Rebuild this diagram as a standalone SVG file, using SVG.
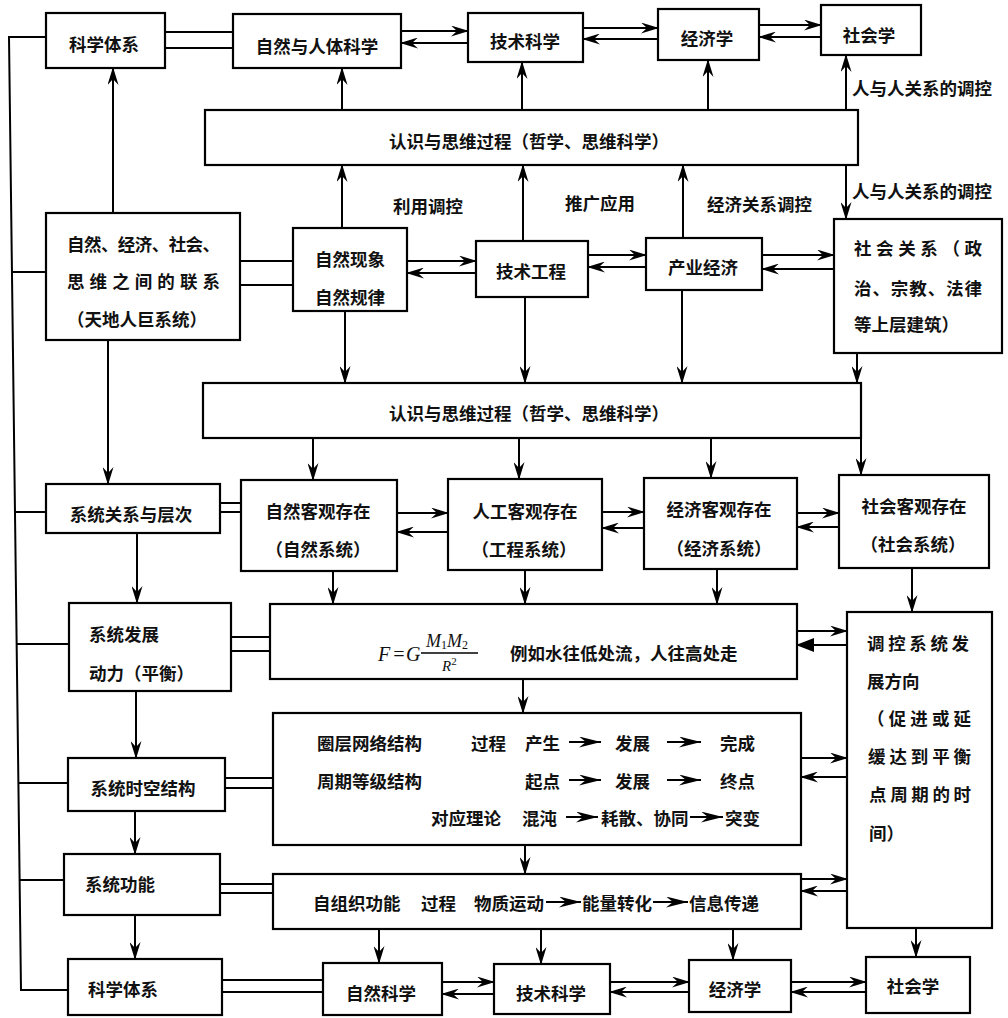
<svg xmlns="http://www.w3.org/2000/svg" width="1008" height="1018" viewBox="0 0 1008 1018">
<style>
.b{fill:#fff;stroke:#000;stroke-width:2.2}
.t{font-family:"Noto Sans CJK SC","Noto Sans CJK JP",sans-serif;font-size:17.5px;font-weight:700;fill:#111;dominant-baseline:central}
.m{text-anchor:middle}
.c{stroke:#000;stroke-width:2;fill:none}
.a{marker-end:url(#ah)}
.f{font-family:"Liberation Serif",serif;font-style:italic;fill:#111;dominant-baseline:central}
</style>
<defs>
<marker id="ah" viewBox="0 0 18 11" refX="17" refY="5.5" markerWidth="18" markerHeight="11" markerUnits="userSpaceOnUse" orient="auto"><path d="M0,0 L18,5.5 L0,11 L6,5.5 z" fill="#000"/></marker>
<marker id="bh" viewBox="0 0 18 14" refX="17" refY="7" markerWidth="18" markerHeight="14" markerUnits="userSpaceOnUse" orient="auto"><path d="M0,0 L18,7 L0,14 z" fill="#000"/></marker>
<marker id="sh" viewBox="0 0 22 11" refX="22" refY="5.5" markerWidth="22" markerHeight="11" markerUnits="userSpaceOnUse" orient="auto"><path d="M0,0 L22,5.5 L0,11 L7,5.5 z" fill="#000"/></marker>
</defs>
<rect width="1008" height="1018" fill="#fff"/>

<g id="connectors">
<path class="c" d="M46,37 H9 L21,990 H68"/>
<path class="c" d="M12,272 H46 M15,512 H46 M17,644 H69 M18,783 H68 M20,880 H64"/>
<path class="c" d="M165,32 H233 M165,48 H233"/>
<path class="c" d="M240,261 H293 M240,285 H293"/>
<path class="c" d="M220,503 H241 M220,512 H241"/>
<path class="c" d="M231,637 H270 M231,651 H270"/>
<path class="c" d="M225,778 H273 M225,788 H273"/>
<path class="c" d="M220,884 H273 M220,893 H273"/>
<path class="c" d="M222,980 H323 M222,992 H323"/>
<path class="c a" d="M401,31 H468"/><path class="c a" d="M468,43 H401"/>
<path class="c a" d="M583,28 H658"/><path class="c a" d="M658,39 H583"/>
<path class="c a" d="M759,25 H821"/><path class="c a" d="M821,37 H759"/>
<path class="c a" d="M342,110 V68"/>
<path class="c a" d="M522,110 V62"/>
<path class="c a" d="M708,110 V60"/>
<path class="c a" d="M846,110 V55"/>
<path class="c a" d="M113,213 V68"/>
<path class="c a" d="M342,228 V165"/>
<path class="c a" d="M523,241 V165"/>
<path class="c a" d="M683,238 V165"/>
<path class="c a" d="M846,165 V219"/>
<path class="c a" d="M407,261 H476"/><path class="c a" d="M476,273 H407"/>
<path class="c a" d="M588,255 H646"/><path class="c a" d="M646,267 H588"/>
<path class="c a" d="M762,255 H834"/><path class="c a" d="M834,269 H762"/>
<path class="c a" d="M345,311 V383"/>
<path class="c a" d="M525,297 V383"/>
<path class="c a" d="M682,290 V383"/>
<path class="c a" d="M857,353 V383"/>
<path class="c a" d="M313,438 V480"/>
<path class="c a" d="M519,438 V479"/>
<path class="c a" d="M711,438 V478"/>
<path class="c a" d="M861,438 V475"/>
<path class="c a" d="M108,340 V484"/>
<path class="c a" d="M137,533 V603"/>
<path class="c a" d="M136,691 V758"/>
<path class="c a" d="M135,811 V854"/>
<path class="c a" d="M135,915 V959"/>
<path class="c a" d="M397,513 H448"/><path class="c a" d="M448,532 H397"/>
<path class="c a" d="M602,512 H644"/><path class="c a" d="M644,528 H602"/>
<path class="c a" d="M797,513 H839"/><path class="c a" d="M839,527 H797"/>
<path class="c a" d="M333,571 V604"/>
<path class="c a" d="M525,570 V604"/>
<path class="c a" d="M717,569 V604"/>
<path class="c a" d="M912,568 V612"/>
<path class="c a" d="M797,631 H847"/>
<path class="c" d="M847,645 H797" marker-end="url(#bh)"/>
<path class="c a" d="M523,679 V713"/>
<path class="c a" d="M801,758 H847"/><path class="c a" d="M847,777 H801"/>
<path class="c a" d="M525,845 V874"/>
<path class="c a" d="M801,879 H847"/><path class="c a" d="M847,891 H801"/>
<path class="c a" d="M379,929 V963"/>
<path class="c a" d="M541,929 V964"/>
<path class="c a" d="M733,929 V960"/>
<path class="c a" d="M916,928 V957"/>
<path class="c a" d="M442,982 H494"/><path class="c a" d="M494,994 H442"/>
<path class="c a" d="M610,982 H689"/><path class="c a" d="M689,992 H610"/>
<path class="c a" d="M791,982 H866"/><path class="c a" d="M866,992 H791"/>
</g>

<g id="labels">
<text class="t" x="393" y="205">利用调控</text>
<text class="t" x="565" y="202">推广应用</text>
<text class="t" x="707" y="203">经济关系调控</text>
<text class="t" x="852" y="87">人与人关系的调控</text>
<text class="t" x="852" y="190">人与人关系的调控</text>
</g>

<g id="n1"><rect class="b" x="46" y="13" width="119" height="55"/><text class="t m" x="104" y="43">科学体系</text></g>
<g id="n2"><rect class="b" x="233" y="14" width="168" height="54"/><text class="t m" x="317" y="45">自然与人体科学</text></g>
<g id="n3"><rect class="b" x="468" y="13" width="115" height="49"/><text class="t m" x="525" y="40">技术科学</text></g>
<g id="n4"><rect class="b" x="658" y="9" width="101" height="51"/><text class="t m" x="707" y="37">经济学</text></g>
<g id="n5"><rect class="b" x="821" y="5" width="100" height="50"/><text class="t m" x="869" y="34">社会学</text></g>
<g id="n6"><rect class="b" x="205" y="110" width="653" height="55"/><text class="t m" x="529" y="140">认识与思维过程（哲学、思维科学）</text></g>
<g id="n7"><rect class="b" x="46" y="213" width="194" height="127"/>
<text class="t" x="67" y="243" textLength="153" lengthAdjust="spacing">自然、经济、社会、</text>
<text class="t" x="67" y="280" textLength="153" lengthAdjust="spacing">思维之间的联系</text>
<text class="t m" x="137" y="318">（天地人巨系统）</text></g>
<g id="n8"><rect class="b" x="293" y="228" width="114" height="83"/><text class="t m" x="350" y="258">自然现象</text><text class="t m" x="350" y="296">自然规律</text></g>
<g id="n9"><rect class="b" x="476" y="241" width="112" height="56"/><text class="t m" x="531" y="270">技术工程</text></g>
<g id="n10"><rect class="b" x="646" y="238" width="116" height="52"/><text class="t m" x="703" y="266">产业经济</text></g>
<g id="n11"><rect class="b" x="834" y="219" width="168" height="134"/>
<text class="t" x="854" y="247" textLength="128" lengthAdjust="spacing">社会关系（政</text>
<text class="t" x="854" y="287" textLength="128" lengthAdjust="spacing">治、宗教、法律</text>
<text class="t" x="854" y="323">等上层建筑）</text></g>
<g id="n12"><rect class="b" x="203" y="383" width="658" height="55"/><text class="t m" x="529" y="412">认识与思维过程（哲学、思维科学）</text></g>
<g id="n13"><rect class="b" x="46" y="484" width="174" height="49"/><text class="t m" x="131" y="513">系统关系与层次</text></g>
<g id="n14"><rect class="b" x="241" y="480" width="156" height="91"/><text class="t m" x="318" y="510">自然客观存在</text><text class="t m" x="318" y="548">（自然系统）</text></g>
<g id="n15"><rect class="b" x="448" y="479" width="154" height="91"/><text class="t m" x="525" y="510">人工客观存在</text><text class="t m" x="524" y="548">（工程系统）</text></g>
<g id="n16"><rect class="b" x="644" y="478" width="153" height="91"/><text class="t m" x="719" y="508">经济客观存在</text><text class="t m" x="719" y="547">（经济系统）</text></g>
<g id="n17"><rect class="b" x="839" y="475" width="150" height="93"/><text class="t m" x="914" y="505">社会客观存在</text><text class="t m" x="913" y="543">（社会系统）</text></g>
<g id="n18"><rect class="b" x="69" y="603" width="162" height="88"/><text class="t" x="89" y="633">系统发展</text><text class="t" x="89" y="672">动力（平衡）</text></g>
<g id="n19"><rect class="b" x="270" y="604" width="527" height="75"/>
<text class="f" x="378" y="654" font-size="20">F</text>
<text class="f" x="392" y="654" font-size="20" font-style="normal">=</text>
<text class="f" x="406" y="654" font-size="20">G</text>
<line x1="421" y1="653" x2="478" y2="653" stroke="#000" stroke-width="1.5"/>
<text class="f" x="426" y="641" font-size="18">M<tspan font-size="12" dy="4" font-style="normal">1</tspan><tspan dy="-4">M</tspan><tspan font-size="12" dy="4" font-style="normal">2</tspan></text>
<text class="f" x="442" y="666" font-size="15">R<tspan font-size="11" dy="-5" font-style="normal">2</tspan></text>
<text class="t" x="510" y="652">例如水往低处流，人往高处走</text></g>
<g id="n20"><rect class="b" x="847" y="612" width="145" height="316"/>
<text class="t" x="867" y="642" textLength="102" lengthAdjust="spacing">调控系统发</text>
<text class="t" x="867" y="680">展方向</text>
<text class="t" x="867" y="717" textLength="104" lengthAdjust="spacing">（促进或延</text>
<text class="t" x="868" y="755" textLength="103" lengthAdjust="spacing">缓达到平衡</text>
<text class="t" x="869" y="793" textLength="102" lengthAdjust="spacing">点周期的时</text>
<text class="t" x="869" y="832">间）</text></g>
<g id="n21"><rect class="b" x="273" y="713" width="528" height="132"/>
<text class="t" x="317" y="742">圈层网络结构</text>
<text class="t" x="471" y="742">过程</text>
<text class="t" x="525" y="742">产生</text>
<path class="c" d="M569,742 H601" marker-end="url(#sh)"/>
<text class="t" x="615" y="742">发展</text>
<path class="c" d="M667,742 H701" marker-end="url(#sh)"/>
<text class="t" x="720" y="742">完成</text>
<text class="t" x="317" y="780">周期等级结构</text>
<text class="t" x="525" y="780">起点</text>
<path class="c" d="M569,780 H601" marker-end="url(#sh)"/>
<text class="t" x="615" y="780">发展</text>
<path class="c" d="M667,780 H701" marker-end="url(#sh)"/>
<text class="t" x="720" y="780">终点</text>
<text class="t" x="431" y="817">对应理论</text>
<text class="t" x="522" y="817">混沌</text>
<path class="c" d="M566,817 H598" marker-end="url(#sh)"/>
<text class="t" x="601" y="817">耗散、协同</text>
<path class="c" d="M690,817 H723" marker-end="url(#sh)"/>
<text class="t" x="725" y="817">突变</text></g>
<g id="n22"><rect class="b" x="68" y="758" width="157" height="53"/><text class="t m" x="143" y="787">系统时空结构</text></g>
<g id="n23"><rect class="b" x="64" y="854" width="156" height="61"/><text class="t" x="85" y="883">系统功能</text></g>
<g id="n24"><rect class="b" x="273" y="874" width="528" height="55"/>
<text class="t" x="313" y="902">自组织功能</text>
<text class="t" x="421" y="902">过程</text>
<text class="t" x="474" y="902">物质运动</text>
<path class="c" d="M546,902 H581" marker-end="url(#sh)"/>
<text class="t" x="582" y="902">能量转化</text>
<path class="c" d="M653,902 H688" marker-end="url(#sh)"/>
<text class="t" x="689" y="902">信息传递</text></g>
<g id="n25"><rect class="b" x="68" y="959" width="154" height="56"/><text class="t" x="88" y="988">科学体系</text></g>
<g id="n26"><rect class="b" x="323" y="963" width="119" height="52"/><text class="t m" x="381" y="992">自然科学</text></g>
<g id="n27"><rect class="b" x="494" y="964" width="116" height="50"/><text class="t m" x="551" y="992">技术科学</text></g>
<g id="n28"><rect class="b" x="689" y="960" width="102" height="52"/><text class="t m" x="735" y="988">经济学</text></g>
<g id="n29"><rect class="b" x="866" y="957" width="104" height="56"/><text class="t m" x="913" y="985">社会学</text></g>
</svg>
